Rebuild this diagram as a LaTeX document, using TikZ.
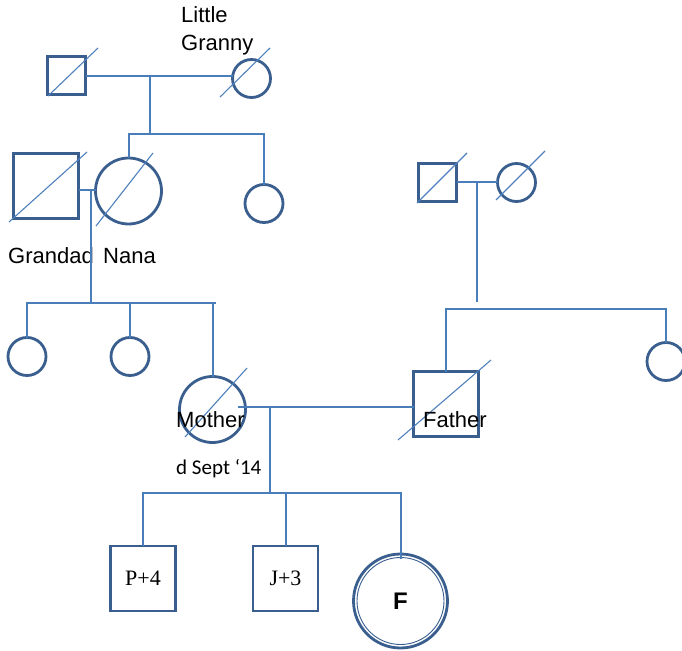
\documentclass[tikz,border=0pt]{standalone}
\usepackage{fontspec}
\setmainfont{Liberation Sans}
\newfontfamily\serifname{Liberation Serif}
\newfontfamily\notefont{Carlito}
\usetikzlibrary{calc}

\definecolor{shapeblue}{HTML}{3A5F8F}
\definecolor{lineblue}{HTML}{4A7EBB}
\definecolor{slashblue}{HTML}{4F81BD}

\begin{document}
\begin{tikzpicture}[x=1pt,y=-1pt,
  person/.style={draw=shapeblue,line width=2.8pt,fill=white,inner sep=0pt,outer sep=0pt},
  malebox/.style={person,rectangle,minimum size=#1},
  femalebox/.style={person,circle,minimum size=#1},
  link/.style={draw=lineblue,line width=2pt},
  slashline/.style={draw=slashblue,line width=1.1pt},
  namelabel/.style={anchor=base west,inner sep=0pt,font=\fontsize{22}{26}\selectfont},
  childlabel/.style={font=\serifname\fontsize{22}{26}\selectfont},
]
\useasboundingbox (0,0) rectangle (682,650);

% ---- great-grandparents (maternal side)
\node[malebox=38]   (ggf) at (66.5,75.5) {};
\node[femalebox=38] (ggm) at (251.5,78.5) {};
\draw[slashline] ($(ggf.center)+(-18.5,20.5)$) -- ($(ggf.center)+(31.5,-27.5)$);
\draw[slashline] ($(ggm.center)+(-31.5,18.5)$) -- ($(ggm.center)+(18.5,-30.5)$);
\node[namelabel] (lg1) at (181,23) {Little};
\node[namelabel] (lg2) at (181,51) {Granny};

\coordinate (m1) at (150,76);
\coordinate (bar1) at (150,134);
\draw[link] (ggf.east |- m1) -- (ggm.west |- m1);
\draw[link] (m1) -- (bar1);

% ---- grandparents and great-aunt
\node[malebox=65]   (gd)   at (46,186) {};
\node[femalebox=66] (nana) at (128.5,191) {};
\node[femalebox=38] (aunt) at (264,203.5) {};
\draw[slashline] ($(gd.center)+(-37,36)$) -- ($(gd.center)+(41,-34)$);
\draw[slashline] ($(nana.center)+(-32.5,35)$) -- ($(nana.center)+(24.5,-38)$);
\draw[link] (nana.north) -- (nana.north |- bar1) -- (aunt.north |- bar1) -- (aunt.north);
\node[namelabel] (gdl) at (8,263) {Grandad};
\node[namelabel] (nal) at (103,263) {Nana};

% ---- paternal grandparents
\node[malebox=38]   (gf2) at (437.5,182.5) {};
\node[femalebox=38] (gm2) at (516.5,182.5) {};
\draw[slashline] ($(gf2.center)+(-20.5,20.5)$) -- ($(gf2.center)+(29.5,-29.5)$);
\draw[slashline] ($(gm2.center)+(-20.5,17.5)$) -- ($(gm2.center)+(28.5,-31.5)$);
\coordinate (m3) at (477,182);
\coordinate (m3end) at (477,302);
\draw[link] (gf2.east |- m3) -- (gm2.west |- m3);
\draw[link] (m3) -- (m3end);

% ---- grandparents' marriage and their daughters
\coordinate (m2) at (91,190);
\coordinate (bar2) at (91,303);
\coordinate (bar2end) at (216,303);
\draw[link] (gd.east |- m2) -- (nana.west |- m2);
\draw[link] (m2) -- (bar2);

\node[femalebox=38] (a1) at (27,356.5) {};
\node[femalebox=38] (a2) at (130,356.5) {};
\node[femalebox=66] (mother) at (212.5,409.5) {};
\draw[slashline] ($(mother.center)+(-27.5,27.5)$) -- ($(mother.center)+(34.5,-41.5)$);
\draw[link] (a1.north) -- (a1.north |- bar2) -- (bar2end);
\draw[link] (a2.north |- bar2) -- (a2.north);
\draw[link] (mother.north |- bar2) -- (mother.north);

% ---- father and his sister
\node[malebox=65]   (father) at (446,404) {};
\node[femalebox=38] (aunt2)  at (666,361.5) {};
\draw[slashline] ($(father.center)+(-48,36)$) -- ($(father.center)+(45,-44)$);
\coordinate (bar3) at (446,309);
\draw[link] (father.north) -- (bar3) -- (aunt2.north |- bar3) -- (aunt2.north);

% ---- parents' marriage
\coordinate (m4) at (270,407);
\draw[link] ($(mother.east |- m4)+(-8,0)$) -- (father.west |- m4);
\node[namelabel] (ml) at (176,427) {Mother};
\node[namelabel] (fl) at (423,427) {Father};
\node[anchor=base west,inner sep=0pt,font=\notefont\fontsize{21}{25}\selectfont] (dl) at (176,474) {d Sept ‘14};

% ---- children
\coordinate (bar4) at (270,493);
\draw[link] (m4) -- (bar4);
\node[malebox=65,childlabel] (p) at (143,578.5) {P+4};
\node[malebox=65,childlabel] (j) at (285.5,578.5) {J+3};
\node[femalebox=94] (f) at (400.5,601) {};
\draw[draw=shapeblue,line width=0.9pt] (f.center) circle (43.5);
\node[inner sep=0pt,font=\bfseries\fontsize{24}{28}\selectfont] (fl2) at (f.center) {F};
\draw[link] (p.north) -- (p.north |- bar4) -- (f.north |- bar4) -- ($(f.north)+(0,5)$);
\draw[link] (j.north |- bar4) -- (j.north);
\end{tikzpicture}
\end{document}
